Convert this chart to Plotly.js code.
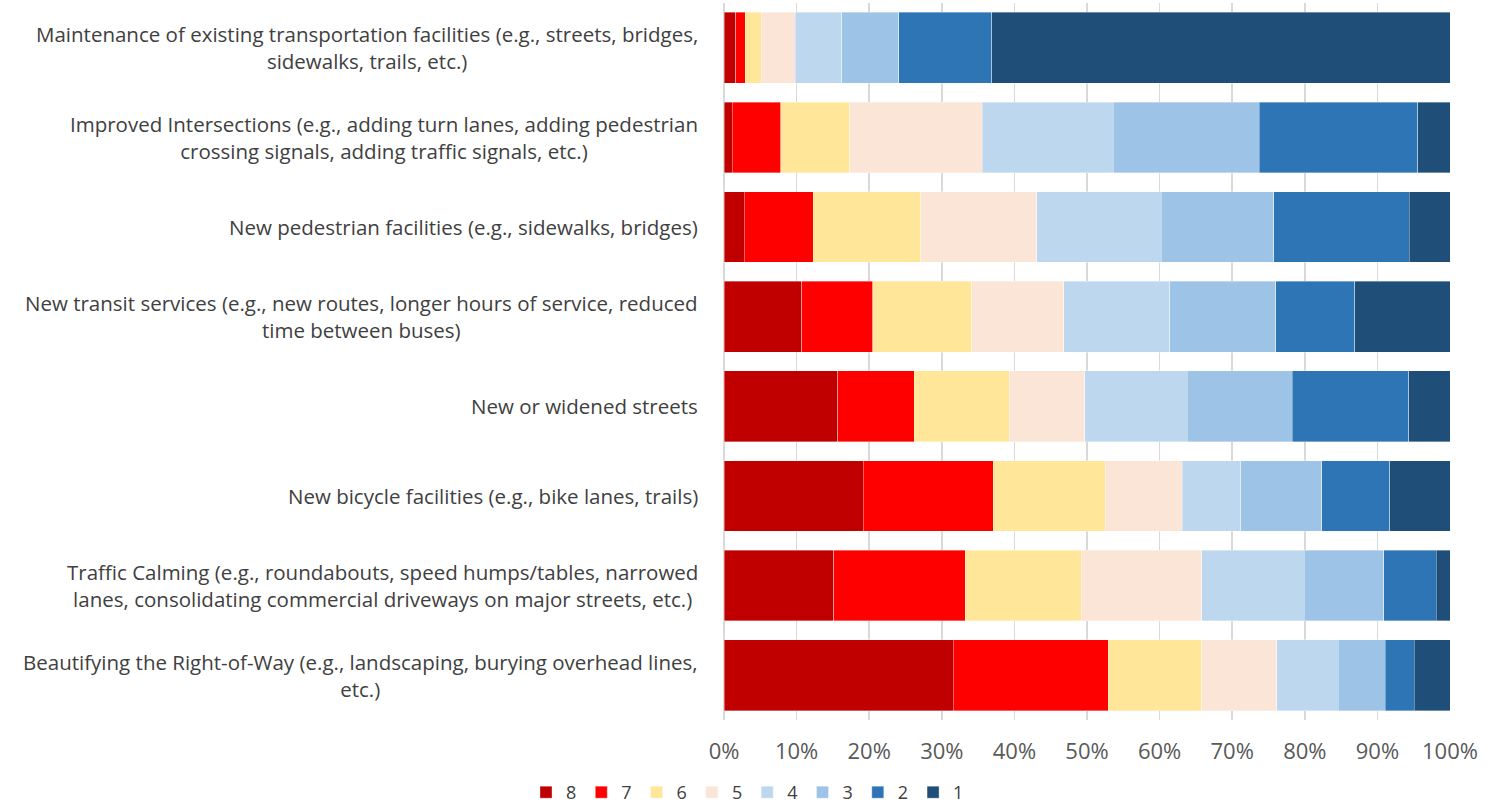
<!DOCTYPE html>
<html>
<head>
<meta charset="utf-8">
<script src="https://cdn.plot.ly/plotly-3.0.1.min.js"></script>
<style>html,body{margin:0;padding:0;background:#fff;}#chart{width:1495px;height:811px;}</style>
</head>
<body>
<div id="chart"></div>
<script>
const categories = [
  "Maintenance of existing transportation facilities (e.g., streets, bridges,<br>sidewalks, trails, etc.)",
  "Improved Intersections (e.g., adding turn lanes, adding pedestrian<br>crossing signals, adding traffic signals, etc.)",
  "New pedestrian facilities (e.g., sidewalks, bridges)",
  "New transit services (e.g., new routes, longer hours of service, reduced<br>time between buses)",
  "New or widened streets",
  "New bicycle facilities (e.g., bike lanes, trails)",
  "Traffic Calming (e.g., roundabouts, speed humps/tables, narrowed<br>lanes, consolidating commercial driveways on major streets, etc.)",
  "Beautifying the Right-of-Way (e.g., landscaping, burying overhead lines,<br>etc.)"
];
const seriesNames = ["8","7","6","5","4","3","2","1"];
const rank8 = [1.65, 1.15, 2.8, 10.7, 15.7, 19.2, 15.1, 31.6];
const rank7 = [1.25, 6.7, 9.5, 9.8, 10.5, 17.9, 18.1, 21.4];
const rank6 = [2.2, 9.45, 14.8, 13.6, 13.1, 15.4, 16.0, 12.9];
const rank5 = [4.7, 18.3, 16.0, 12.7, 10.4, 10.6, 16.6, 10.3];
const rank4 = [6.45, 18.0, 17.1, 14.6, 14.1, 8.1, 14.1, 8.5];
const rank3 = [7.85, 20.1, 15.5, 14.6, 14.5, 11.1, 11.0, 6.5];
const rank2 = [12.8, 21.85, 18.7, 10.9, 16.0, 9.4, 7.2, 4.0];
const rank1 = [63.1, 4.45, 5.6, 13.1, 5.7, 8.3, 1.9, 4.9];
const seriesValues = [rank8, rank7, rank6, rank5, rank4, rank3, rank2, rank1];
const colors = ["#C00000","#FF0000","#FFE699","#FBE5D6","#BDD7EE","#9DC3E6","#2E75B6","#1F4E79"];

const traces = seriesNames.map((n, i) => {
  const vals = seriesValues[i];
  return {
    type: "bar",
    orientation: "h",
    name: n,
    y: categories,
    x: vals.map((v, j) => {
      const tot = seriesValues.reduce((s, arr) => s + arr[j], 0);
      return v / tot;
    }),
    marker: {color: colors[i], line: {color: "rgba(255,255,255,0.45)", width: 0.8}},
    hoverinfo: "x+name"
  };
});

const FONT = "'Open Sans', Lato, sans-serif";

const annotations = categories.map(c => ({
  xref: "paper", yref: "y",
  x: -24 / 726, y: c,
  xanchor: "right", yanchor: "middle",
  align: "center",
  text: c,
  showarrow: false,
  font: {family: FONT, size: 20.5, color: "#404040"}
}));

const layout = {
  width: 1495, height: 811,
  margin: {l: 724, r: 45, t: 3, b: 91},
  barmode: "stack",
  bargap: 0.21,
  paper_bgcolor: "#fff",
  plot_bgcolor: "#fff",
  font: {family: FONT, color: "#404040", size: 20},
  xaxis: {
    range: [0, 1], dtick: 0.1, tick0: 0, tickformat: ".0%",
    showgrid: true, gridcolor: "#D9D9D9", gridwidth: 1.5,
    zeroline: true, zerolinecolor: "#D9D9D9", zerolinewidth: 1.5,
    showline: false, ticks: "",
    tickfont: {family: FONT, size: 22, color: "#595959"},
    ticklabelstandoff: 16,
    fixedrange: true
  },
  yaxis: {
    autorange: "reversed",
    showgrid: false, zeroline: false, ticks: "",
    showticklabels: false,
    fixedrange: true
  },
  annotations: annotations,
  showlegend: true,
  legend: {
    orientation: "h",
    xref: "container", yref: "container",
    x: 0.5, xanchor: "center",
    y: 0, yanchor: "bottom",
    font: {family: FONT, size: 18, color: "#404040"},
    traceorder: "normal",
    itemwidth: 30,
    itemclick: false, itemdoubleclick: false
  }
};

Plotly.newPlot("chart", traces, layout, {displayModeBar: false, staticPlot: true});
</script>
</body>
</html>
